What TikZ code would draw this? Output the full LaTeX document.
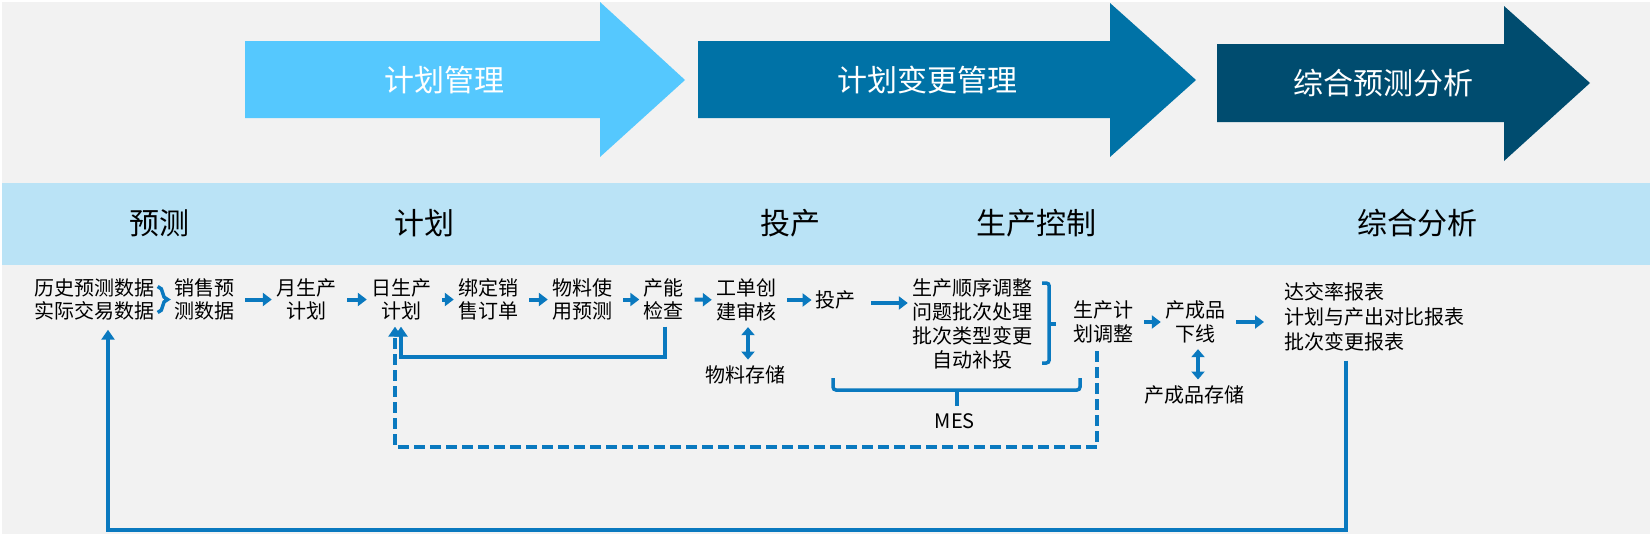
\documentclass[tikz,border=0pt]{standalone}
\usepackage{fontspec}
\setmainfont{Noto Sans CJK SC}
\usetikzlibrary{arrows.meta,decorations.pathreplacing}
\definecolor{pagegray}{HTML}{F2F2F2}
\definecolor{bandblue}{HTML}{BAE3F6}
\definecolor{skyblue}{HTML}{55C8FE}
\definecolor{midblue}{HTML}{0072A6}
\definecolor{deepblue}{HTML}{004C6F}
\definecolor{linecol}{HTML}{0A79BF}

\begin{document}
\begin{tikzpicture}[x=1pt, y=-1pt, every node/.style={
    inner sep=0pt,
    align=center,
    font=\fontsize{20}{23.5}\selectfont
},
bigtext/.style={font=\fontsize{30}{34}\selectfont},
flow/.style={line width=4pt, draw=linecol, -{Triangle[length=9pt,width=13pt]}, shorten <=11pt, shorten >=4pt},
twoway/.style={line width=4pt, draw=linecol, {Triangle[length=8pt,width=13pt]}-{Triangle[length=8pt,width=13pt]}, shorten <=6pt, shorten >=6pt},
loopline/.style={line width=4pt, draw=linecol, -{Triangle[length=10pt,width=13pt]}},
bracket/.style={line width=3.5pt, draw=linecol, rounded corners=3pt}
]
    %page
    \useasboundingbox (0,0) rectangle (1652,536);
    \fill[white] (0,0) rectangle (1652,536);
    \fill[pagegray] (2,2) rectangle (1650,534);
    \fill[bandblue] (2,183) rectangle (1650,265);

    %arrows
    \fill[skyblue] (245,41) -- (600,41) -- (600,2) -- (685,80) -- (600,157) -- (600,118) -- (245,118) -- cycle;
    \fill[midblue] (698,41) -- (1110,41) -- (1110,3) -- (1196,80) -- (1110,157) -- (1110,118) -- (698,118) -- cycle;
    \fill[deepblue] (1217,44) -- (1504,44) -- (1504,6) -- (1590,83) -- (1504,161) -- (1504,122) -- (1217,122) -- cycle;

    \node (plan_mgmt) [bigtext, text=white, shift={(444,80)}] {计划管理};
    \node (change_mgmt) [bigtext, text=white, shift={(927,80)}] {计划变更管理};
    \node (forecast_analysis) [bigtext, text=white, shift={(1383,83)}] {综合预测分析};

    %stages
    \node (stage_forecast) [bigtext, shift={(159,223)}] {预测};
    \node (stage_plan) [bigtext, shift={(424,223)}] {计划};
    \node (stage_launch) [bigtext, shift={(790,223)}] {投产};
    \node (stage_control) [bigtext, shift={(1036,223)}] {生产控制};
    \node (stage_analysis) [bigtext, shift={(1417,223)}] {综合分析};

    %forecast and plan
    \node (hist_data) [shift={(94.5,299.5)}]
    {
        历史预测数据\\实际交易数据
    };
    \node (sales_fc) [shift={(204,299.5)}]
    {
        销售预\\测数据
    };
    \node (month_plan) [shift={(306,299.5)}]
    {
        月生产\\计划
    };
    \node (day_plan) [shift={(401,299.5)}]
    {
        日生产\\计划
    };
    \node (bind_order) [shift={(488,299.5)}]
    {
        绑定销\\售订单
    };
    \node (mat_fc) [shift={(582,299.5)}]
    {
        物料使\\用预测
    };
    \node (cap_check) [shift={(663.5,299.5)}]
    {
        产能\\检查
    };

    %launch
    \node (work_order) [shift={(746,300)}]
    {
        工单创\\建审核
    };
    \node (mat_store) [shift={(748,375)}]
    {
        物料存储
    };
    \node (launch) [shift={(838,300)}]
    {
        投产
    };

    %control
    \node (control_list) [font=\fontsize{20}{24}\selectfont, shift={(972,324)}]
    {
        生产顺序调整\\问题批次处理\\批次类型变更\\自动补投
    };
    \node (adjust_plan) [shift={(1103,322)}]
    {
        生产计\\划调整
    };
    \node (prod_offline) [shift={(1195,322)}]
    {
        产成品\\下线
    };
    \node (prod_store) [shift={(1197,395)}]
    {
        产成品存储
    };
    \node (mes_label) [shift={(957,421)}]
    {
        MES
    };

    %analysis
    \node (reports) [anchor=west, align=left, font=\fontsize{20}{25}\selectfont, shift={(1284,317)}]
    {
        达交率报表\\计划与产出对比报表\\批次变更报表
    };

    %flow
    \draw[flow] (sales_fc) to (month_plan);
    \draw[flow] (month_plan) to (day_plan);
    \draw[flow] (day_plan) to (bind_order);
    \draw[flow] (bind_order) to (mat_fc);
    \draw[flow] (mat_fc) to (cap_check);
    \draw[flow] (cap_check) to (work_order);
    \draw[flow] (work_order) to (launch);
    \draw[flow] ([yshift=-3pt]launch.east) to ([yshift=-3pt]launch.east -| control_list.west);
    \draw[flow] (adjust_plan) to (prod_offline);
    \draw[flow, shorten >=20pt] (prod_offline.east) to (prod_offline.east -| reports.west);

    \draw[twoway] (mat_store.north |- work_order.south) to (mat_store.north);
    \draw[twoway] ([xshift=1pt]prod_store.north |- prod_offline.south) to ([xshift=1pt]prod_store.north);

    %braces
    \draw[line width=3.5pt, draw=linecol, decorate, decoration={brace, amplitude=10pt}] ([shift={(3pt,13pt)}]hist_data.east) -- ([shift={(3pt,-13pt)}]hist_data.east);
    \coordinate (list_top) at ([shift={(10pt,41pt)}]control_list.east);
    \coordinate (list_bottom) at ([shift={(10pt,-39pt)}]control_list.east);
    \draw[bracket] (list_top) -- ++(7,0) -- ++(0,80) -- ++(-7,0);
    \draw[bracket] ([xshift=7pt]control_list.east -| list_top) -- ++(7,0);
    \coordinate (mes_left) at (833,378);
    \coordinate (mes_right) at (1080,378);
    \draw[bracket] (mes_left) -- ++(0,12) -- ([yshift=-12pt]mes_right) -- (mes_right);
    \draw[bracket] (mes_label.north |- 0,390) -- ([yshift=7pt]mes_label.north);

    %feedback
    \coordinate (solid_loop) at (0,357);
    \coordinate (dash_loop) at (0,447);
    \coordinate (long_loop) at (0,530);
    \draw[loopline] ([shift={(1.5pt,-6pt)}]cap_check.south) |- (day_plan.south |- solid_loop) -- ([yshift=-6pt]day_plan.south);
    \draw[loopline, dash pattern=on 11pt off 5pt] ([shift={(-6pt,-8pt)}]adjust_plan.south) |- ([xshift=-6pt]day_plan.south |- dash_loop) -- ([shift={(-6pt,-6pt)}]day_plan.south);
    \draw[loopline] ([shift={(62pt,-9pt)}]reports.south west) |- ([xshift=13.5pt]hist_data.south |- long_loop) -- ([shift={(13.5pt,-9pt)}]hist_data.south);

\end{tikzpicture}
\end{document}
